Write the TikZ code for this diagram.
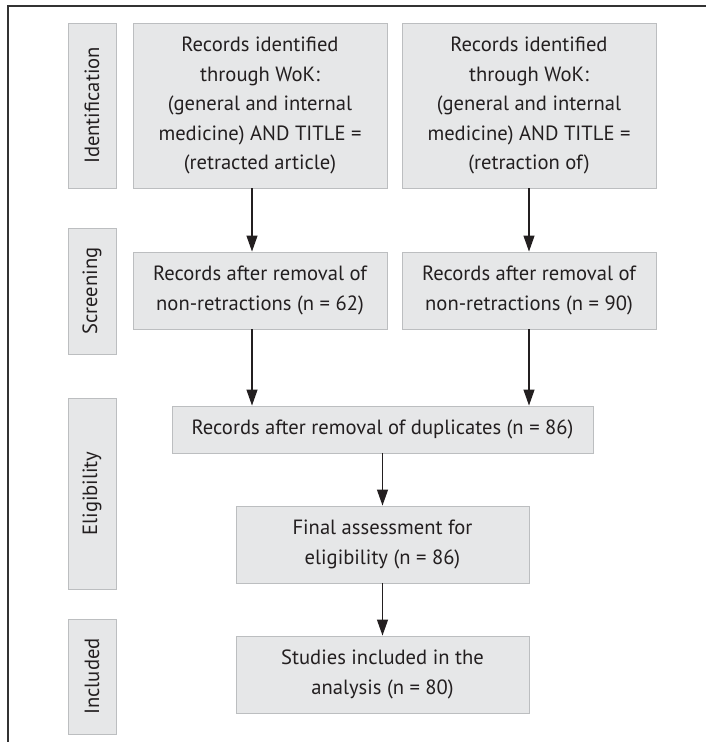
\documentclass[tikz,border=0pt]{standalone}
\usepackage{fontspec}
\setmainfont{PT Sans}
\usepackage{tikz}
\usetikzlibrary{arrows.meta}
\definecolor{boxfill}{HTML}{E6E7E8}
\definecolor{boxline}{HTML}{BCBEC0}
\definecolor{inkdark}{HTML}{231F20}
\definecolor{frameline}{HTML}{333333}
\tikzset{
  stage/.style={rectangle, fill=boxfill, draw=boxline, line width=0.9pt, inner sep=0pt,
    align=center, text=inkdark, font=\fontsize{20.6}{29.5}\selectfont},
  phase/.style={stage, minimum width=48pt},
  flow/.style={draw=inkdark, line width=1.2pt, -{Triangle[length=16pt, width=11pt]}},
  frame/.style={draw=frameline, line width=1.4pt},
}

\begin{document}
\begin{tikzpicture}[x=1pt, y=-1pt]
  \useasboundingbox (0,0) rectangle (706,742);
  \draw[frame] (8,742) -- (8,6) -- (706,6);

  % phase labels on the left
  \node[phase, minimum height=165pt] (idlab) at (92,105.5) {\rotatebox{90}{Identification}};
  \node[phase, minimum height=126pt] (sclab) at (92,291) {\rotatebox{90}{Screening}};
  \node[phase, minimum height=191pt] (ellab) at (92,493.5) {\rotatebox{90}{Eligibility}};
  \node[phase, minimum height=115pt] (inlab) at (92,676.5) {\rotatebox{90}{Included}};

  % boxes
  \node[stage, minimum width=254pt, minimum height=165pt] (idleft) at (260,105.5)
      {Records identified\\through WoK:\\(general and internal\\medicine) AND TITLE =\\(retracted article)};
  \node[stage, minimum width=254pt, minimum height=165pt] (idright) at (529,105.5)
      {Records identified\\through WoK:\\(general and internal\\medicine) AND TITLE =\\(retraction of)};
  \node[stage, minimum width=254pt, minimum height=77pt] (scleft) at (260,290.5)
      {Records after removal of\\non-retractions (n = 62)};
  \node[stage, minimum width=254pt, minimum height=77pt] (scright) at (529,290.5)
      {Records after removal of\\non-retractions (n = 90)};
  \node[stage, minimum width=421pt, minimum height=47pt] (dups) at (382.5,429.5)
      {Records after removal of duplicates (n = 86)};
  \node[stage, minimum width=293pt, minimum height=77pt] (final) at (382.5,544.5)
      {Final assessment for\\eligibility (n = 86)};
  \node[stage, minimum width=293pt, minimum height=77pt] (incl) at (382.5,674.5)
      {Studies included in the\\analysis (n = 80)};

  % arrows
  \draw[flow] ([xshift=-8pt]idleft.south) -- ([xshift=-8pt]scleft.north);
  \draw[flow] (idright.south) -- (scright.north);
  \draw[flow] ([xshift=-8pt]scleft.south) -- ([xshift=-8pt]scleft.south |- dups.north);
  \draw[flow] (scright.south) -- (scright.south |- dups.north);
  \draw[flow] (dups) -- (final);
  \draw[flow] (final) -- (incl);
\end{tikzpicture}
\end{document}
